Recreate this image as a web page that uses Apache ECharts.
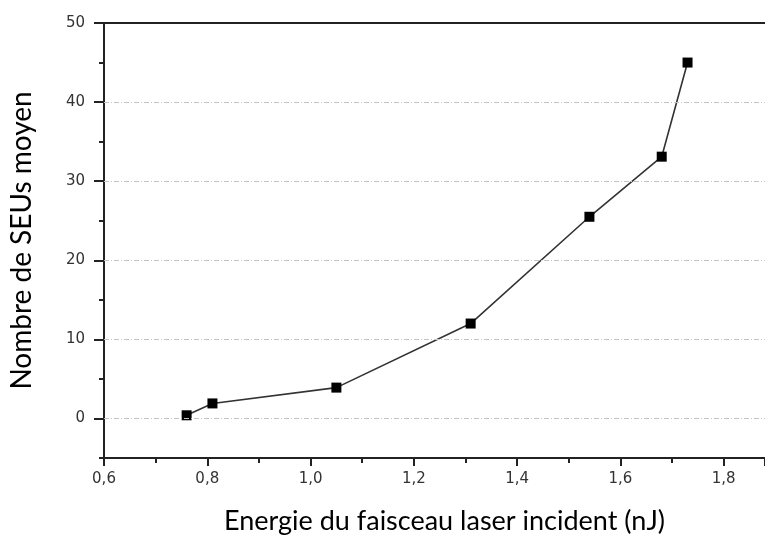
<!DOCTYPE html>
<html>
<head>
<meta charset="utf-8">
<script src="https://cdn.jsdelivr.net/npm/echarts@6/dist/echarts.min.js"></script>
<style>html,body{margin:0;padding:0;background:#fff;}#c{width:765px;height:540px;}</style>
</head>
<body>
<div id="c"></div>
<script>
const energy = [0.76, 0.81, 1.05, 1.31, 1.54, 1.68, 1.73];
const seus = [0.4, 1.9, 3.9, 12.0, 25.5, 33.1, 45.0];
const yMajorTicks = [0, 10, 20, 30, 40, 50];
const gridValues = [0, 10, 20, 30, 40];
const xTitle = 'Energie du faisceau laser incident (nJ)';
const yTitle = 'Nombre de SEUs moyen';

const axisColor = '#222';
const chart = echarts.init(document.getElementById('c'));
chart.setOption({
  animation: false,
  grid: { left: 103, right: 0, top: 23, bottom: 81, containLabel: false },
  xAxis: [{
    type: 'value', position: 'bottom', min: 0.6, max: 1.88, interval: 0.2,
    axisLine: { show: true, onZero: false, lineStyle: { color: axisColor, width: 2 } },
    axisTick: { show: true, inside: false, length: 8, lineStyle: { color: axisColor, width: 2 } },
    minorTick: { show: true, splitNumber: 2, length: 5, lineStyle: { color: axisColor, width: 2 } },
    axisLabel: { margin: 14, showMaxLabel: false, fontFamily: 'DejaVu Sans', fontSize: 15, color: '#333',
      formatter: v => v.toFixed(1).replace('.', ',') },
    splitLine: { show: false },
    name: xTitle, nameLocation: 'middle', nameGap: 50,
    nameTextStyle: { fontFamily: 'Lato', fontSize: 27, color: '#000', padding: [0, 0, 0, 20] }
  }, {
    type: 'value', position: 'top', min: 0.6, max: 1.88, interval: 0.2,
    axisLine: { show: true, onZero: false, lineStyle: { color: axisColor, width: 2 } },
    axisTick: { show: false }, axisLabel: { show: false }, splitLine: { show: false }
  }],
  yAxis: [{
    type: 'value', position: 'left', min: -5, max: 50, interval: 5,
    axisLine: { show: true, onZero: false, lineStyle: { color: axisColor, width: 2 } },
    axisTick: { show: true, inside: false, length: 5, lineStyle: { color: axisColor, width: 2 } },
    axisLabel: { margin: 19, fontFamily: 'DejaVu Sans', fontSize: 15, color: '#333',
      formatter: v => (v % 10 === 0 ? String(v) : '') },
    splitLine: { show: false },
    name: yTitle, nameLocation: 'middle', nameGap: 68,
    nameTextStyle: { fontFamily: 'Lato', fontSize: 28, color: '#000' }
  }, {
    type: 'value', position: 'left', min: -5, max: 50,
    axisLine: { show: false },
    axisTick: { show: true, inside: false, length: 10, customValues: yMajorTicks, lineStyle: { color: axisColor, width: 2 } },
    axisLabel: { show: false }, splitLine: { show: false }
  }],
  series: [{
    type: 'line', xAxisIndex: 0, yAxisIndex: 0, data: [], silent: true, z: 1,
    markLine: {
      silent: true, symbol: 'none', label: { show: false }, animation: false,
      lineStyle: { color: '#c4c4c4', type: [5, 2, 1, 2], width: 1 },
      data: gridValues.map(v => ({ yAxis: v }))
    }
  }, {
    type: 'line', xAxisIndex: 0, yAxisIndex: 0, z: 3,
    data: energy.map((x, i) => [x, seus[i]]),
    symbol: 'rect', symbolSize: 10,
    itemStyle: { color: '#000' },
    lineStyle: { color: '#333', width: 1.6 }
  }]
});
</script>
</body>
</html>
